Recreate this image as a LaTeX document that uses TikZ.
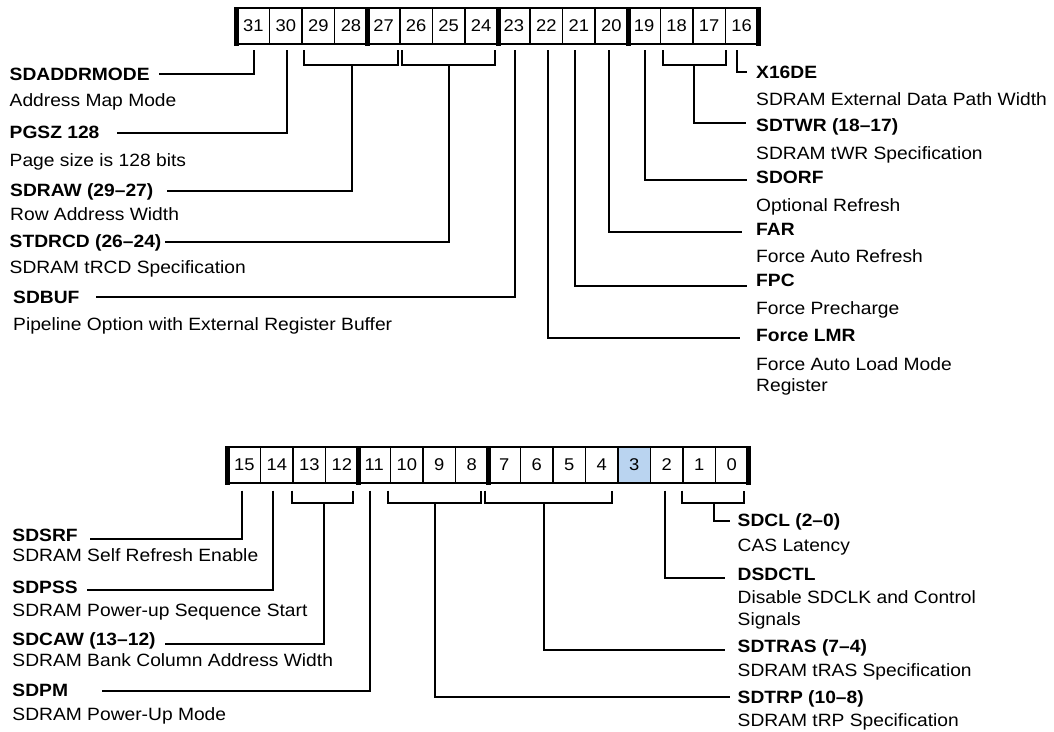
\documentclass[tikz,border=0pt]{standalone}
\usepackage{fontspec}
\setmainfont{Liberation Sans}[FakeStretch=1.08]
\usetikzlibrary{calc}
\definecolor{hl}{RGB}{186,212,240}
\begin{document}
\begin{tikzpicture}[x=1pt,y=-1pt,
  cell/.style={draw, line width=1.4pt, minimum height=35pt, inner sep=0pt, font=\fontsize{17}{17}\selectfont},
  tcell/.style={cell, minimum width=32.56pt},
  bcell/.style={cell, minimum width=32.5pt},
  lead/.style={line width=2pt},
  bar/.style={line width=5pt},
  edge/.style={line width=2.2pt},
  lbl/.style={font=\fontsize{17.8}{20}\selectfont\bfseries, anchor=base west, inner sep=0pt},
  desc/.style={font=\fontsize{17.8}{20}\selectfont, anchor=base west, inner sep=0pt},
]
\useasboundingbox (0,0) rectangle (1054,731);
\fill[white] (0,0) rectangle (1054,731);

% ---------------- top register (31..16)
\foreach \i in {0,...,15} {
  \pgfmathtruncatemacro\b{31-\i}
  \node[tcell] (t\b) at ({237+32.56*(\i+0.5)},26) {\b};
}
\draw[edge] (t31.north west) -- (t16.north east);
\draw[edge] (t31.south west) -- (t16.south east);
\foreach \n/\a in {t31/west,t28/east,t24/east,t20/east,t16/east}
  \draw[bar] ([yshift=0.5pt]\n.north \a) -- ([yshift=-1.5pt]\n.south \a);

% ---------------- bottom register (15..0)
\fill[hl] (618,447.5) rectangle (650.5,482.5);
\foreach \i in {0,...,15} {
  \pgfmathtruncatemacro\b{15-\i}
  \node[bcell] (b\b) at ({228+32.5*(\i+0.5)},465) {\b};
}
\draw[edge] (b15.north west) -- (b0.north east);
\draw[edge] (b15.south west) -- (b0.south east);
\foreach \n/\a in {b15/west,b12/east,b8/east,b0/east}
  \draw[bar] ([yshift=0.5pt]\n.north \a) -- ([yshift=-1.5pt]\n.south \a);

% ---------------- top left labels
\node[lbl]  (n31) at (9.5,80)    {SDADDRMODE};
\node[desc] (d31) at (9.5,106.7) {Address Map Mode};
\node[lbl]  (n30) at (9.5,138.3) {PGSZ 128};
\node[desc] (d30) at (9.5,166.7) {Page size is 128 bits};
\node[lbl]  (n29) at (10,196.7)  {SDRAW (29–27)};
\node[desc] (d29) at (10,220.7)  {Row Address Width};
\node[lbl]  (n26) at (9.5,247.7) {STDRCD (26–24)};
\node[desc] (d26) at (9.5,273.3) {SDRAM tRCD Specification};
\node[lbl]  (n23) at (13,303.3)  {SDBUF};
\node[desc] (d23) at (13,330)    {Pipeline Option with External Register Buffer};

% ---------------- top right labels
\node[lbl]  (n16) at (756,78.3)  {X16DE};
\node[desc] (d16) at (756,105)   {SDRAM External Data Path Width};
\node[lbl]  (n18) at (756,131.7) {SDTWR (18–17)};
\node[desc] (d18) at (756,159)   {SDRAM tWR Specification};
\node[lbl]  (n19) at (756,183.3) {SDORF};
\node[desc] (d19) at (756,211.7) {Optional Refresh};
\node[lbl]  (n20) at (756,235)   {FAR};
\node[desc] (d20) at (756,262.3) {Force Auto Refresh};
\node[lbl]  (n21) at (756,286.7) {FPC};
\node[desc] (d21) at (756,314.3) {Force Precharge};
\node[lbl]  (n22) at (756,341.7) {Force LMR};
\node[desc] (d22) at (756,370.7) {Force Auto Load Mode};
\node[desc] (d22b) at (756,391) {Register};

% ---------------- top connectors
\coordinate (e31) at (159,73.5);
\coordinate (e30) at (117,133.3);
\coordinate (e29) at (167,190.7);
\coordinate (e26) at ([xshift=3pt,yshift=6pt]n26.base east);
\coordinate (e23) at (96,296.7);
\coordinate (e22) at (740,338.3);
\coordinate (e21) at (747,285.7);
\coordinate (e20) at (742,231.7);
\coordinate (e19) at (747,180);
\coordinate (e18) at (746,123.3);
\coordinate (e16) at (747,72);

\draw[lead] ([xshift=0.7pt,yshift=-6pt]t31.south) |- (e31);
\draw[lead] ([xshift=1pt,yshift=-6pt]t30.south) |- (e30);
\draw[lead] ([xshift=2.5pt,yshift=-6pt]t29.south west) |- ([yshift=-20.5pt]t28.south)
            -| ([xshift=-3pt,yshift=-6pt]t27.south east);
\draw[lead] ([xshift=1pt,yshift=-20.5pt]t28.south) |- (e29);
\draw[lead] ([xshift=2.5pt,yshift=-6pt]t26.south west) |- ([yshift=-20.5pt]t25.south)
            -| ([xshift=-3.5pt,yshift=-6pt]t24.south east);
\draw[lead] ([yshift=-20.5pt]t25.south) |- (e26);
\draw[lead] ([xshift=1.3pt,yshift=-6pt]t23.south) |- (e23);
\draw[lead] ([xshift=1.5pt,yshift=-6pt]t22.south) |- (e22);
\draw[lead] ([xshift=-4pt,yshift=-6pt]t21.south) |- (e21);
\draw[lead] ([xshift=-2.4pt,yshift=-6pt]t20.south) |- (e20);
\draw[lead] ([xshift=1pt,yshift=-6pt]t19.south) |- (e19);
\draw[lead] ([xshift=3pt,yshift=-6pt]t18.south west) |- ([yshift=-20.5pt]t18.south east)
            -| ([xshift=0pt,yshift=-6pt]t17.south east);
\draw[lead] ([yshift=-20.5pt]t18.south east) |- (e18);
\draw[lead] ([xshift=-5pt,yshift=-6pt]t16.south) |- (e16);

% ---------------- bottom left labels
\node[lbl]  (n15) at (12.3,541)   {SDSRF};
\node[desc] (d15) at (12.3,561.7) {SDRAM Self Refresh Enable};
\node[lbl]  (n14) at (12.3,593.3) {SDPSS};
\node[desc] (d14) at (12.3,616.7) {SDRAM Power-up Sequence Start};
\node[lbl]  (n13) at (12.3,645)   {SDCAW (13–12)};
\node[desc] (d13) at (12.3,666.7) {SDRAM Bank Column Address Width};
\node[lbl]  (n11) at (12.3,696)   {SDPM};
\node[desc] (d11) at (12.3,720)   {SDRAM Power-Up Mode};

% ---------------- bottom right labels
\node[lbl]  (n1)  at (737.5,526.7) {SDCL (2–0)};
\node[desc] (d1)  at (737.5,551.7) {CAS Latency};
\node[lbl]  (n2)  at (737.5,580)   {DSDCTL};
\node[desc] (d2)  at (737.5,603.3) {Disable SDCLK and Control};
\node[desc] (d2b) at (737.5,625)   {Signals};
\node[lbl]  (n7)  at (737.5,652.7) {SDTRAS (7–4)};
\node[desc] (d7)  at (737.5,676)   {SDRAM tRAS Specification};
\node[lbl]  (n10) at (737.5,703)   {SDTRP (10–8)};
\node[desc] (d10) at (737.5,726.5) {SDRAM tRP Specification};

% ---------------- bottom connectors
\coordinate (e15) at (90,539.3);
\coordinate (e14) at (87,590);
\coordinate (e13) at (165,644);
\coordinate (e11) at (102,690.7);
\coordinate (e10) at (730,696.7);
\coordinate (e7)  at (725,650);
\coordinate (e2)  at (725,577.7);
\coordinate (e1)  at (730,520.7);

\draw[lead] ([xshift=-2.25pt,yshift=-7.5pt]b15.south) |- (e15);
\draw[lead] ([xshift=-3.75pt,yshift=-7.5pt]b14.south) |- (e14);
\draw[lead] ([xshift=-0.5pt,yshift=-7.5pt]b13.south west) |- ([xshift=-2.5pt,yshift=-19.5pt]b13.south east)
            -| ([xshift=-5.3pt,yshift=-7.5pt]b12.south east);
\draw[lead] ([xshift=-2.5pt,yshift=-19.5pt]b13.south east) |- (e13);
\draw[lead] ([xshift=-4.25pt,yshift=-7.5pt]b11.south) |- (e11);
\draw[lead] ([xshift=-2.2pt,yshift=-7.5pt]b10.south west) |- ([xshift=-4.25pt,yshift=-19.5pt]b9.south)
            -| ([xshift=-8pt,yshift=-7.5pt]b8.south east);
\draw[lead] ([xshift=-4.25pt,yshift=-19.5pt]b9.south) |- (e10);
\draw[lead] ([xshift=-2pt,yshift=-7.5pt]b7.south west) |- ([xshift=7.25pt,yshift=-19.5pt]b6.south)
            -| ([xshift=-7pt,yshift=-7.5pt]b4.south east);
\draw[lead] ([xshift=7.25pt,yshift=-19.5pt]b6.south) |- (e7);
\draw[lead] ([xshift=-1.75pt,yshift=-7.5pt]b2.south) |- (e2);
\draw[lead] ([yshift=-7.5pt]b1.south west) |- ([xshift=-2.5pt,yshift=-19.5pt]b1.south east)
            -| ([xshift=-5pt,yshift=-7.5pt]b0.south east);
\draw[lead] ([xshift=-2.5pt,yshift=-19.5pt]b1.south east) |- (e1);
\end{tikzpicture}
\end{document}
